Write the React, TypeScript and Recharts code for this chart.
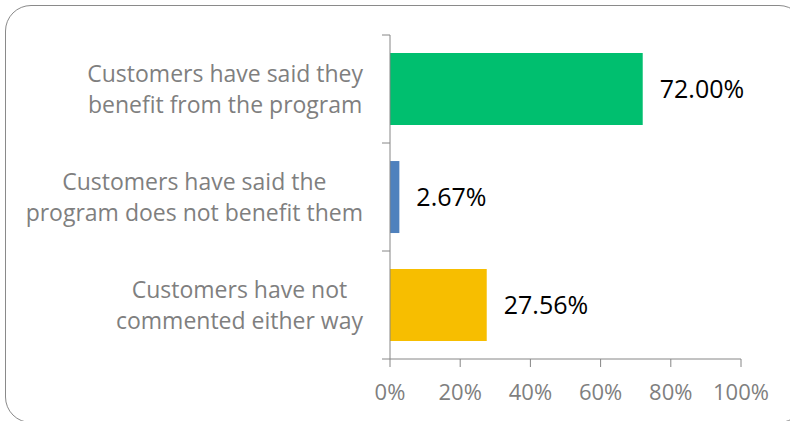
import { BarChart, Bar, XAxis, YAxis, Cell, LabelList } from 'recharts'

const categories = [
  'Customers have said they\nbenefit from the program',
  'Customers have said the\nprogram does not benefit them',
  'Customers have not\ncommented either way',
]
const shares = [72.0, 2.67, 27.56]
const barColors = ['#00BF6F', '#4F81BD', '#F7BE00']
const xTicks = [0, 20, 40, 60, 80, 100]

const FONT = '"Open Sans", sans-serif'
const LABEL_SIZE = 23
const LINE_GAP = 31
const AXIS_GREY = '#868686'
const TEXT_GREY = '#7f7f7f'

const data = categories.map((name, i) => ({ name, value: shares[i] }))

let ctx: CanvasRenderingContext2D | null = null
function textWidth(s: string): number {
  if (!ctx) ctx = document.createElement('canvas').getContext('2d')
  if (!ctx) return s.length * LABEL_SIZE * 0.5
  ctx.font = `${LABEL_SIZE}px ${FONT}`
  return ctx.measureText(s).width
}

// right-aligned block, lines centred inside it (like Excel);
// also draws the tick marks between categories
function CategoryTick(props: any) {
  const { x, y, payload, index, visibleTicksCount } = props
  const lines = String(payload.value).split('\n')
  const maxW = Math.max(...lines.map(textWidth))
  const cx = x - maxW / 2
  const half = payload.offset || 0
  const axisX = x + 27
  const isLast = index === (visibleTicksCount ?? 3) - 1
  return (
    <g>
      <line x1={axisX - 8} x2={axisX} y1={y - half} y2={y - half} stroke={AXIS_GREY} />
      {isLast && <line x1={axisX - 8} x2={axisX} y1={y + half} y2={y + half} stroke={AXIS_GREY} />}
      <text textAnchor="middle" fill={TEXT_GREY} fontSize={LABEL_SIZE} fontFamily={FONT}>
        {lines.map((l, i) => (
          <tspan key={i} x={cx} y={y + (i - (lines.length - 1) / 2) * LINE_GAP} dy="0.35em">
            {l}
          </tspan>
        ))}
      </text>
    </g>
  )
}

export default function App() {
  return (
    <div style={{ position: 'absolute', left: 0, top: 0, width: 790, height: 421, overflow: 'hidden', background: '#fff' }}>
      <div
        style={{
          position: 'absolute',
          left: 5,
          top: 5,
          width: 800,
          height: 418,
          border: '1.5px solid #8a8a8a',
          borderRadius: 26,
          boxSizing: 'border-box',
        }}
      />
      <div style={{ position: 'absolute', left: 0, top: 0 }}>
        <BarChart
          width={790}
          height={421}
          data={data}
          layout="vertical"
          margin={{ top: 35, right: 49, bottom: 12, left: 0 }}
          barCategoryGap="16.7%"
        >
          <XAxis
            type="number"
            domain={[0, 100]}
            ticks={xTicks}
            tickFormatter={(v) => `${v}%`}
            height={50}
            tickSize={8}
            tickMargin={17}
            stroke={AXIS_GREY}
            tick={{ fill: TEXT_GREY, fontSize: 22, fontFamily: FONT }}
          />
          <YAxis
            type="category"
            dataKey="name"
            width={390}
            tickLine={false}
            tickSize={0}
            tickMargin={27}
            stroke={AXIS_GREY}
            tick={<CategoryTick />}
          />
          <Bar dataKey="value" isAnimationActive={false}>
            {data.map((_, i) => (
              <Cell key={i} fill={barColors[i]} />
            ))}
            <LabelList
              dataKey="value"
              position="right"
              offset={17}
              formatter={(v: any) => `${Number(v).toFixed(2)}%`}
              fill="#000"
              fontSize={25}
              fontFamily={FONT}
            />
          </Bar>
        </BarChart>
      </div>
    </div>
  )
}
